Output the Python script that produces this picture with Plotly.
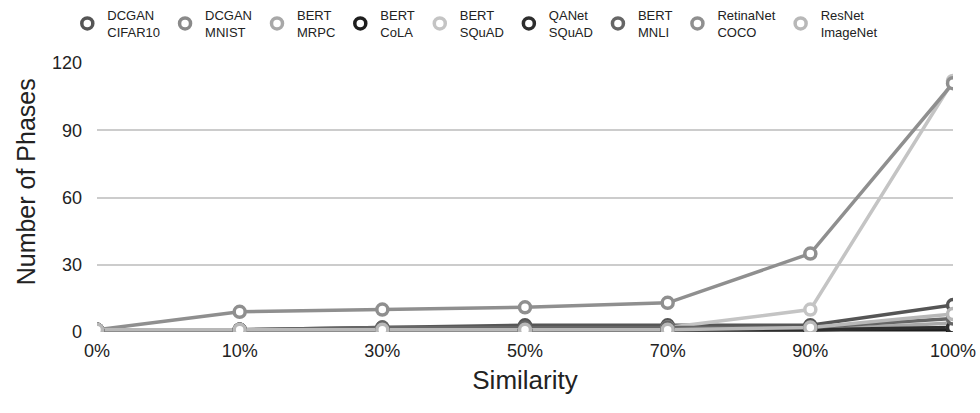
import plotly.graph_objects as go

similarity = ["0%", "10%", "30%", "50%", "70%", "90%", "100%"]

series_names = [
    "DCGAN<br>CIFAR10", "DCGAN<br>MNIST", "BERT<br>MRPC", "BERT<br>CoLA", "BERT<br>SQuAD",
    "QANet<br>SQuAD", "BERT<br>MNLI", "RetinaNet<br>COCO", "ResNet<br>ImageNet",
]

dcgan_cifar10 = [1, 1, 2, 3, 3, 3, 12]
dcgan_mnist = [1, 1, 1, 1, 1, 1, 2]
bert_mrpc = [1, 1, 1, 1, 1, 1, 4]
bert_cola = [1, 1, 1, 1, 1, 1, 1]
bert_squad = [1, 1, 1, 1, 2, 10, 112]
qanet_squad = [1, 1, 1, 1, 1, 1, 2]
bert_mnli = [1, 1, 2, 2, 2, 2, 6]
retinanet_coco = [1, 9, 10, 11, 13, 35, 111]
resnet_imagenet = [1, 1, 1, 1, 1, 2, 8]

series_values = [
    dcgan_cifar10, dcgan_mnist, bert_mrpc, bert_cola, bert_squad,
    qanet_squad, bert_mnli, retinanet_coco, resnet_imagenet,
]

colors = ["#555555", "#8a8a8a", "#a8a8a8", "#1e1e1e", "#c4c4c4",
          "#2e2e2e", "#666666", "#8f8f8f", "#b8b8b8"]

y_ticks = [0, 30, 60, 90, 120]

fig = go.Figure()
for name, vals, col in zip(series_names, series_values, colors):
    # connecting line (kept out of the legend so the legend shows a bare marker)
    fig.add_trace(go.Scatter(
        x=similarity, y=vals, mode="lines", showlegend=False, hoverinfo="skip",
        line=dict(color=col, width=3.5), legendgroup=name,
    ))
for name, vals, col in zip(series_names, series_values, colors):
    fig.add_trace(go.Scatter(
        x=similarity, y=vals, name=name, mode="markers", legendgroup=name,
        marker=dict(symbol="circle", size=11, color="white",
                    line=dict(color=col, width=3.5)),
    ))

font_family = "Liberation Sans, Arial, sans-serif"

fig.update_layout(
    width=980, height=413,
    margin=dict(l=97, r=27, t=63, b=81, autoexpand=False),
    paper_bgcolor="white", plot_bgcolor="white",
    font=dict(family=font_family, color="#222222"),
    showlegend=True,
    legend=dict(
        orientation="h", x=0.485, xanchor="center", xref="container",
        y=1.0, yanchor="top", yref="container",
        font=dict(size=13, color="#222222"),
        itemwidth=30, tracegroupgap=0, itemclick=False,
    ),
    xaxis=dict(
        type="category", range=[0, 6], showgrid=False, zeroline=False,
        showline=False, tickfont=dict(size=18), ticks="", ticklabelstandoff=6,
        title=dict(text="Similarity", font=dict(size=26), standoff=10),
    ),
    yaxis=dict(
        range=[0, 120], tickvals=y_ticks, showgrid=True, gridcolor="#cccccc",
        gridwidth=1.5, zeroline=False, showline=False,
        tickfont=dict(size=18), ticklabelstandoff=14,
    ),
    annotations=[dict(
        text="Number of Phases", textangle=-90, showarrow=False,
        xref="paper", yref="paper", x=-0.083, y=0.56,
        xanchor="center", yanchor="middle", font=dict(size=25, color="#222222"),
    )],
)

fig.write_html("out.html")
